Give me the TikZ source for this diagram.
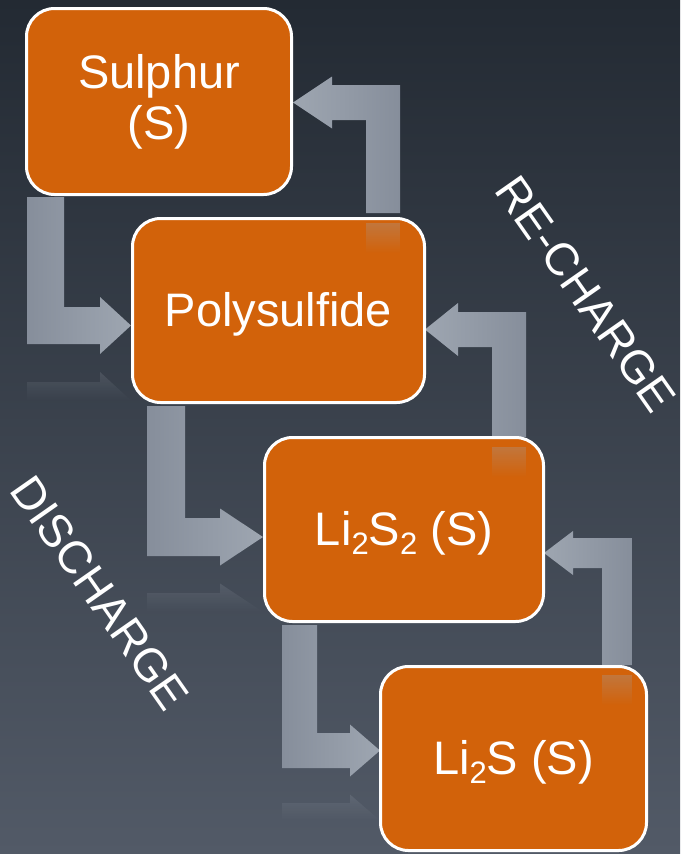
\documentclass[tikz,border=0pt]{standalone}
\usepackage{fontspec}
\setmainfont{Liberation Sans}
\usetikzlibrary{fadings}
\definecolor{bgtop}{HTML}{232A33}
\definecolor{bgmid}{HTML}{2B323B}
\definecolor{bgbot}{HTML}{525A67}
\definecolor{boxorange}{HTML}{D2620A}
\definecolor{arrdark}{HTML}{868E9B}
\definecolor{arrlight}{HTML}{9EA6B1}

\newcommand{\subs}[1]{\raisebox{-9pt}{\fontsize{31}{31}\selectfont #1}}

% discharge arrow: #1 xl, #2 xr, #3 ytop, #4 yt, #5 yb, #6 xh, #7 hh, #8 xtip
\newcommand{\dischargearrow}[8]{%
  \pgfmathsetmacro{\ymid}{(#4+#5)/2}%
  \pgfmathsetmacro{\rA}{\ymid+#7+18}%
  \pgfmathsetmacro{\rB}{\rA+\ymid+#7-#5}%
  \pgfmathsetmacro{\rC}{\rA+#7}%
  \shade[left color=arrdark, right color=arrlight]
    (#1,#3) -- (#2,#3) -- (#2,#4) -- (#6,#4) -- (#6,\ymid-#7) -- (#8,\ymid)
    -- (#6,\ymid+#7) -- (#6,#5) -- (#1,#5) -- cycle;
  \fill[arrlight, fill opacity=0.2, path fading=south]
    (#1,\rB) -- (#6,\rB) -- (#6,\rA) -- (#8,\rC) -- (#1,\rC) -- cycle;
}
% recharge arrow: #1 xl, #2 xr, #3 ybot, #4 yt, #5 yb, #6 xh, #7 hh, #8 xtip
\newcommand{\rechargearrow}[8]{%
  \pgfmathsetmacro{\ymid}{(#4+#5)/2}%
  \shade[left color=arrlight, right color=arrdark]
    (#2,#3) -- (#2,#4) -- (#6,#4) -- (#6,\ymid-#7) -- (#8,\ymid)
    -- (#6,\ymid+#7) -- (#6,#5) -- (#1,#5) -- (#1,#3) -- cycle;
}
% reflection of a recharge arrow on the box below: #1 xl, #2 xr, #3 ybot
\newcommand{\rechargerefl}[3]{%
  \fill[arrlight, fill opacity=0.3, path fading=south]
    (#1,#3+10) rectangle (#2,#3+40);
}

\tikzset{
  stage/.style={draw=white, line width=3pt, fill=boxorange, rounded corners=28pt,
    text=white, font=\fontsize{47}{51}\selectfont, inner sep=0pt},
  oneline/.style={text height=34pt, text depth=2pt},
  phase/.style={text=white, font=\fontsize{46}{46}\selectfont, inner sep=0pt, rotate=-55}
}

\begin{document}
\begin{tikzpicture}[x=1pt,y=-1pt]
\shade[top color=bgtop, middle color=bgmid, bottom color=bgbot] (0,0) rectangle (680,854);
\useasboundingbox (0,0) rectangle (680,854);

% arrows
\dischargearrow{27}{64}{197}{307}{344}{100}{28.5}{131}
\dischargearrow{147}{185}{406}{518}{556}{220}{28.5}{263}
\dischargearrow{282}{317}{625}{733}{768}{350}{26}{380}
\rechargearrow{366}{400}{213}{85}{120}{332}{26}{293}
\rechargearrow{492}{526}{437}{312}{347}{458}{26.5}{425}
\rechargearrow{602}{632}{665}{538}{568}{573}{22}{544}

% stages
\node[stage, align=center, minimum width=265pt, minimum height=186pt] (b1) at (159,101.5) {Sulphur\\(S)};
\node[stage, oneline, minimum width=292pt, minimum height=184pt] (b2) at (278.5,310.5) {Polysulfide};
\node[stage, oneline, minimum width=279pt, minimum height=184pt] (b3) at (404,529.5) {Li\subs{2}S\subs{2} (S)};
\node[stage, oneline, minimum width=266pt, minimum height=184pt] (b4) at (513.5,758.5) {Li\subs{2}S (S)};

% reflections of the re-charge arrows
\rechargerefl{366}{400}{213}
\rechargerefl{492}{526}{437}
\rechargerefl{602}{632}{665}

% phase labels
\node[phase] (dis) at (100,593) {DISCHARGE};
\node[phase] (rec) at (586,294) {RE-CHARGE};
\end{tikzpicture}
\end{document}
